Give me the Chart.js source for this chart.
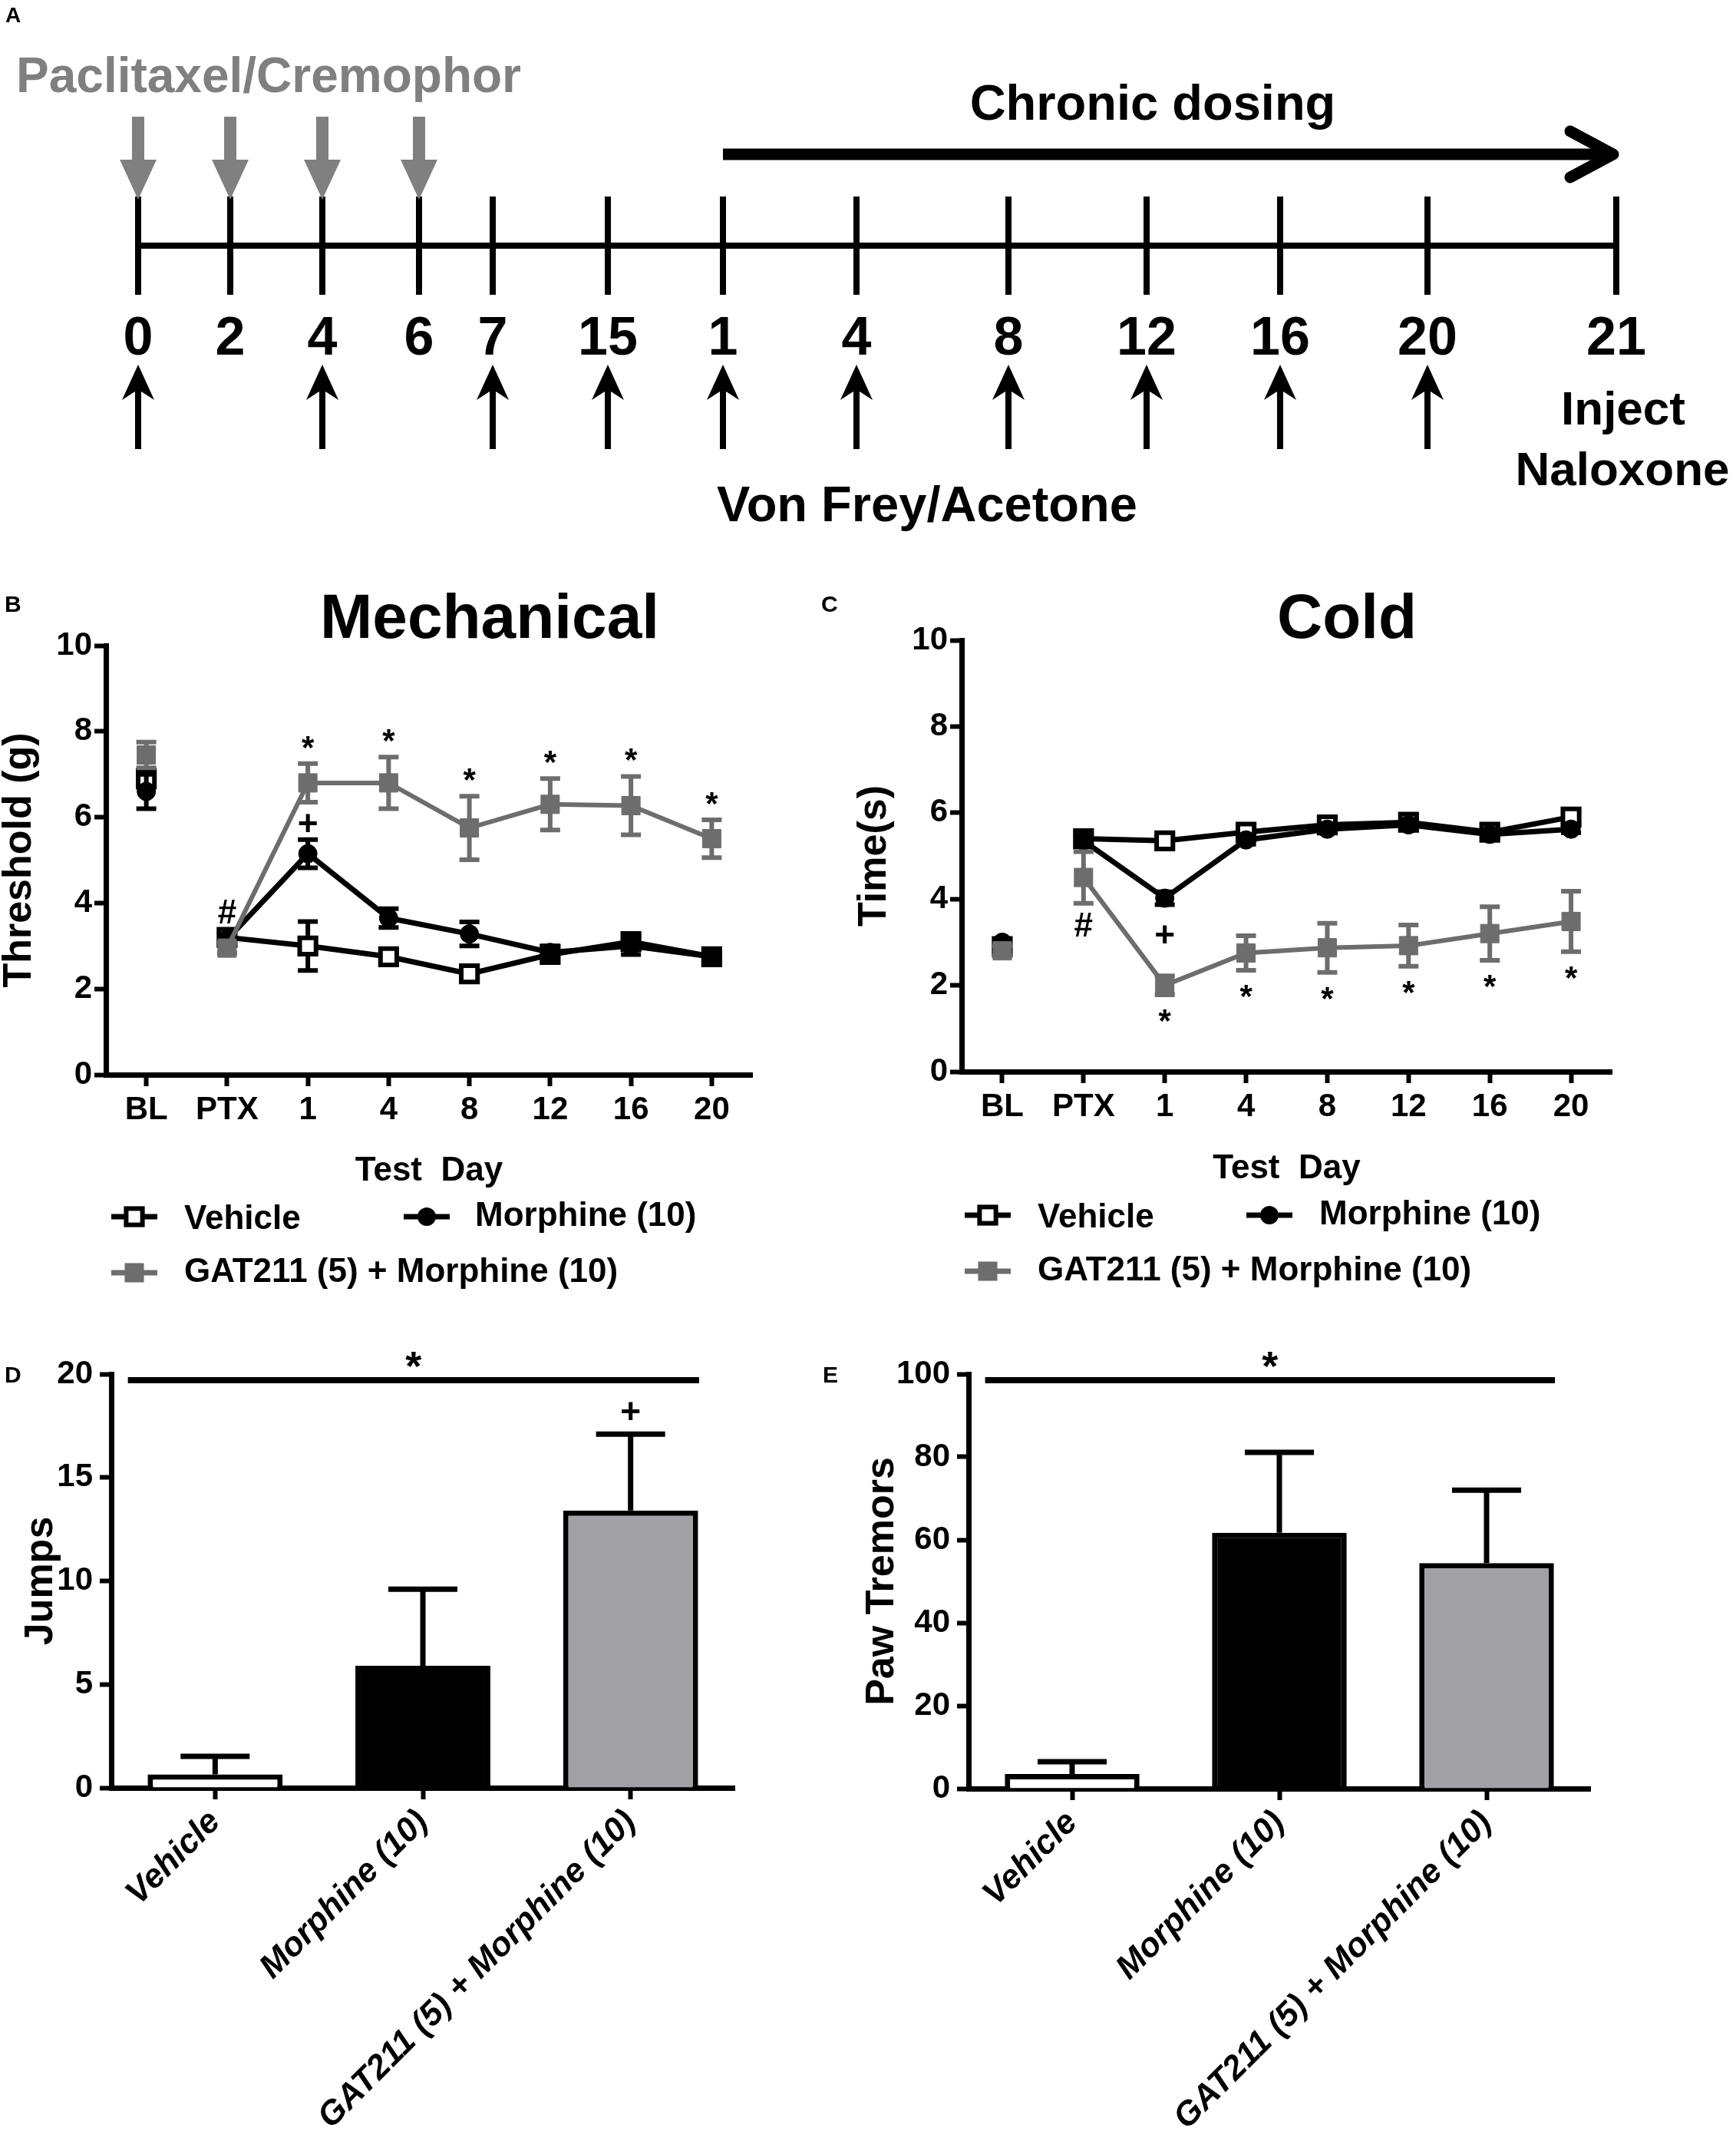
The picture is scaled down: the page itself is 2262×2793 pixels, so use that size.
<!DOCTYPE html>
<html>
<head>
<meta charset="utf-8">
<script src="https://cdn.jsdelivr.net/npm/chart.js@4.4.1/dist/chart.umd.min.js"></script>
<style>
  body { margin: 0; background: #fff; width: 2262px; height: 2793px; position: relative; overflow: hidden; }
  canvas { position: absolute; }
</style>
</head>
<body>
<canvas id="chartA" width="2262" height="700" style="left:0px;top:0px"></canvas>
<canvas id="chartB" width="1060" height="1000" style="left:0px;top:700px"></canvas>
<canvas id="chartC" width="1202" height="1000" style="left:1060px;top:700px"></canvas>
<canvas id="chartD" width="1060" height="1093" style="left:0px;top:1700px"></canvas>
<canvas id="chartE" width="1202" height="1093" style="left:1060px;top:1700px"></canvas>
<script>
'use strict'

// ---------- data ----------
// A: timeline (positions are schematic units along the line)
var timelineDays = ['0', '2', '4', '6', '7', '15', '1', '4', '8', '12', '16', '20', '21'];
var timelinePos = [0, 2, 4, 6.1, 7.7, 10.2, 12.7, 15.6, 18.9, 21.9, 24.8, 28, 32.1];
var paclitaxelDose = [1, 1, 1, 1, 0, 0, 0, 0, 0, 0, 0, 0, 0];
var vonFreyTest = [1, 0, 1, 0, 1, 1, 1, 1, 1, 1, 1, 1, 0];
var chronicFrom = 6, chronicTo = 12;

// B / C: test days
var testDays = ['BL', 'PTX', '1', '4', '8', '12', '16', '20'];

var mechVehicle = [6.9, 3.2, 3.0, 2.75, 2.35, 2.8, 3.1, 2.75];
var mechVehicleErr = [0.2, 0.1, 0.57, 0.12, 0.12, 0.15, 0.15, 0.1];
var mechMorphine = [6.6, 3.15, 5.15, 3.65, 3.28, 2.85, 3.0, 2.75];
var mechMorphineErr = [0.4, 0.1, 0.33, 0.22, 0.28, 0.15, 0.2, 0.1];
var mechGat = [7.45, 2.95, 6.8, 6.8, 5.75, 6.3, 6.27, 5.5];
var mechGatErr = [0.3, 0.12, 0.45, 0.6, 0.74, 0.6, 0.68, 0.44];
var mechStars = ['', '', '*', '*', '*', '*', '*', '*'];
var mechPlus = ['', '', '+', '', '', '', '', ''];
var mechHash = ['', '#', '', '', '', '', '', ''];

var coldVehicle = [2.9, 5.4, 5.35, 5.55, 5.72, 5.78, 5.55, 5.9];
var coldVehicleErr = [0.1, 0.12, 0.1, 0.1, 0.08, 0.1, 0.08, 0.12];
var coldMorphine = [3.0, 5.35, 4.02, 5.37, 5.62, 5.72, 5.5, 5.62];
var coldMorphineErr = [0.08, 0.1, 0.15, 0.1, 0.08, 0.12, 0.1, 0.08];
var coldGat = [2.8, 4.5, 2.0, 2.75, 2.87, 2.92, 3.2, 3.48];
var coldGatErr = [0.12, 0.6, 0.22, 0.4, 0.57, 0.48, 0.62, 0.7];
var coldStars = ['', '', '*', '*', '*', '*', '*', '*'];
var coldPlus = ['', '', '+', '', '', '', '', ''];
var coldHash = ['', '#', '', '', '', '', '', ''];

// D / E: withdrawal
var groups = ['Vehicle', 'Morphine (10)', 'GAT211 (5) + Morphine (10)'];
var jumps = [0.65, 5.9, 13.4];
var jumpsErr = [0.87, 3.7, 3.7];
var jumpsMarks = ['', '', '+'];
var tremors = [3.5, 61.7, 54.4];
var tremorsErr = [3.0, 19.4, 17.6];

var FONT = '"Liberation Sans", Arial, Helvetica, sans-serif';
var GRAY = '#6d6d6d';

Chart.defaults.font.family = FONT;
Chart.defaults.font.weight = 'bold';
Chart.defaults.color = '#000';

// ---------- plugins ----------
var errorBars = {
  id: 'errorBars',
  beforeDatasetDraw: function(chart, args) {
    var ds = chart.data.datasets[args.index];
    if (ds.errors && !ds.errorUp) drawErrors(chart, ds, args.meta);
  },
  afterDatasetDraw: function(chart, args) {
    var ds = chart.data.datasets[args.index];
    if (ds.errors && ds.errorUp) drawErrors(chart, ds, args.meta);
  }
};

function drawErrors(chart, ds, meta) {
  var ctx = chart.ctx, y = chart.scales.y;
  var hw = ds.capHalf || 13;
  ctx.save();
  ctx.strokeStyle = ds.errorColor || ds.borderColor;
  ctx.lineWidth = ds.errorWidth || 6;
  meta.data.forEach(function(el, i) {
    var v = ds.data[i], e = ds.errors[i];
    if (v == null || !e) return;
    var top = y.getPixelForValue(v + e);
    var bot = ds.errorUp ? y.getPixelForValue(v) : y.getPixelForValue(v - e);
    ctx.beginPath();
    ctx.moveTo(el.x, top); ctx.lineTo(el.x, bot);
    ctx.moveTo(el.x - hw, top); ctx.lineTo(el.x + hw, top);
    if (!ds.errorUp) { ctx.moveTo(el.x - hw, bot); ctx.lineTo(el.x + hw, bot); }
    ctx.stroke();
  });
  ctx.restore();
}

function centeredText(ctx, txt, x, yc) {
  var m = ctx.measureText(txt);
  ctx.fillText(txt, x, yc + (m.actualBoundingBoxAscent - m.actualBoundingBoxDescent) / 2);
}

function drawSymbol(ctx, ds, cx, cy) {
  ctx.strokeStyle = ds.borderColor;
  ctx.lineWidth = 7;
  ctx.beginPath(); ctx.moveTo(cx - 30, cy); ctx.lineTo(cx + 30, cy); ctx.stroke();
  ctx.fillStyle = ds.pointBackgroundColor;
  if (ds.pointStyle === 'circle') {
    ctx.beginPath(); ctx.arc(cx, cy, ds.pointRadius, 0, 2 * Math.PI); ctx.fill();
  } else {
    var s = ds.pointRadius * Math.SQRT2;
    ctx.fillRect(cx - s / 2, cy - s / 2, s, s);
    ctx.lineWidth = ds.pointBorderWidth;
    ctx.strokeStyle = ds.pointBorderColor;
    ctx.strokeRect(cx - s / 2, cy - s / 2, s, s);
  }
}

var extras = {};

var panelExtras = {
  id: 'panelExtras',
  afterDraw: function(chart) {
    var ex = extras[chart.canvas.id];
    if (!ex) return;
    var ctx = chart.ctx, area = chart.chartArea, ys = chart.scales.y, xs = chart.scales.x;
    ctx.save();
    ctx.fillStyle = '#000';
    ctx.textAlign = 'left';
    ctx.textBaseline = 'alphabetic';
    ctx.font = 'bold 30px ' + FONT;
    ctx.fillText(ex.letter[0], ex.letter[1], ex.letter[2]);

    if (ex.title) {
      ctx.font = 'bold 82px ' + FONT;
      ctx.textAlign = 'center';
      ctx.fillText(ex.title[0], ex.title[1], ex.title[2]);
    }

    // significance bar over all groups
    if (ex.sig) {
      var cell = xs.getPixelForValue(1) - xs.getPixelForValue(0);
      var x0 = xs.getPixelForValue(0) - 0.42 * cell;
      var x1 = xs.getPixelForValue(2) + 0.33 * cell;
      ctx.strokeStyle = '#000';
      ctx.lineWidth = 8;
      ctx.beginPath(); ctx.moveTo(x0, area.top + 8); ctx.lineTo(x1, area.top + 8); ctx.stroke();
      ctx.font = 'bold 54px ' + FONT;
      ctx.textAlign = 'center';
      centeredText(ctx, ex.sig, (x0 + x1) / 2, area.top - 19);
    }

    // marks (* + #) next to error bars
    (ex.marks || []).forEach(function(item) {
      var ds = chart.data.datasets[item.ds];
      var meta = chart.getDatasetMeta(item.ds);
      ctx.font = 'bold ' + item.size + 'px ' + FONT;
      ctx.textAlign = 'center';
      ctx.fillStyle = '#000';
      item.marks.forEach(function(m, i) {
        if (!m) return;
        var v = ds.data[i], e = ds.errors ? ds.errors[i] : 0;
        var yc = item.side === 'above'
          ? ys.getPixelForValue(v + e) - item.gap
          : ys.getPixelForValue(v - e) + item.gap;
        centeredText(ctx, m, meta.data[i].x, yc);
      });
    });

    // legend
    if (ex.legend) {
      ex.legend.items.forEach(function(it) {
        var ds = chart.data.datasets[it.ds];
        var cy = area.bottom + ex.legend.rows[it.row];
        drawSymbol(ctx, ds, area.left + it.sx, cy);
        ctx.fillStyle = '#000';
        ctx.font = 'bold 44px ' + FONT;
        ctx.textAlign = 'left';
        centeredText(ctx, ds.label, area.left + it.tx, cy);
      });
    }
    ctx.restore();
  }
};

var timelinePlugin = {
  id: 'timeline',
  afterDraw: function(chart) {
    var ctx = chart.ctx, xs = chart.scales.x, ys = chart.scales.y;
    var y0 = ys.getPixelForValue(0);
    var px = timelinePos.map(function(v) { return xs.getPixelForValue(v); });
    ctx.save();
    ctx.textBaseline = 'alphabetic';

    ctx.fillStyle = '#000';
    ctx.font = 'bold 28px ' + FONT;
    ctx.fillText('A', 7, 29);

    // day labels
    ctx.font = 'bold 70px ' + FONT;
    ctx.textAlign = 'center';
    timelineDays.forEach(function(d, i) { ctx.fillText(d, px[i], y0 + 142); });

    // paclitaxel injections
    ctx.fillStyle = '#808080';
    paclitaxelDose.forEach(function(on, i) {
      if (!on) return;
      var x = px[i];
      ctx.fillRect(x - 8, y0 - 168, 16, 60);
      ctx.beginPath();
      ctx.moveTo(x - 24, y0 - 112); ctx.lineTo(x + 24, y0 - 112); ctx.lineTo(x, y0 - 60);
      ctx.closePath(); ctx.fill();
    });
    ctx.font = 'bold 64px ' + FONT;
    ctx.fillText('Paclitaxel/Cremophor', (px[0] + px[3]) / 2 - 13, y0 - 200);

    // behavioural testing arrows
    ctx.fillStyle = '#000';
    vonFreyTest.forEach(function(on, i) {
      if (!on) return;
      var x = px[i], t = y0 + 155;
      ctx.beginPath();
      ctx.moveTo(x, t); ctx.lineTo(x + 21, t + 46); ctx.lineTo(x + 4, t + 35);
      ctx.lineTo(x + 4, y0 + 265); ctx.lineTo(x - 4, y0 + 265); ctx.lineTo(x - 4, t + 35);
      ctx.lineTo(x - 21, t + 46); ctx.closePath(); ctx.fill();
    });
    ctx.font = 'bold 65px ' + FONT;
    ctx.fillText('Von Frey/Acetone', px[chronicFrom] + 266, y0 + 359);

    // chronic dosing arrow
    var xa = px[chronicFrom], xb = px[chronicTo] - 4, ya = y0 - 119;
    ctx.strokeStyle = '#000';
    ctx.lineWidth = 15;
    ctx.beginPath(); ctx.moveTo(xa, ya); ctx.lineTo(xb - 6, ya); ctx.stroke();
    ctx.lineCap = 'round';
    ctx.lineJoin = 'round';
    ctx.beginPath();
    ctx.moveTo(xb - 56, ya - 30); ctx.lineTo(xb, ya); ctx.lineTo(xb - 56, ya + 30);
    ctx.stroke();
    ctx.fillText('Chronic dosing', (xa + xb) / 2 - 20, y0 - 164);

    ctx.font = 'bold 62px ' + FONT;
    ctx.fillText('Inject', px[chronicTo] + 9, y0 + 233);
    ctx.fillText('Naloxone', px[chronicTo] + 8, y0 + 312);
    ctx.restore();
  }
};

// ---------- chart A ----------
new Chart(document.getElementById('chartA'), {
  type: 'scatter',
  data: {
    datasets: [{
      data: timelinePos.map(function(v) { return {x: v, y: 0}; }),
      showLine: true,
      borderColor: '#000',
      borderWidth: 8,
      pointStyle: 'line',
      pointRotation: 90,
      pointRadius: 64,
      pointBorderWidth: 8,
      pointBorderColor: '#000',
      clip: false
    }]
  },
  options: {
    responsive: false, animation: false, events: [],
    layout: {autoPadding: false, padding: {left: 0, right: 0, top: 0, bottom: 60}},
    plugins: {legend: {display: false}, tooltip: {enabled: false}},
    scales: {
      x: {type: 'linear', display: false, min: -3, max: 34.7},
      y: {type: 'linear', display: false, min: -1, max: 1}
    }
  },
  plugins: [timelinePlugin]
});

// ---------- line charts B, C ----------
// order: lower draws on top (GAT211 over morphine over vehicle)
var STYLE = {
  vehicle: {color: '#000', point: 'rect', r: 15, fill: '#fff', pbw: 6, lw: 7, order: 2},
  morphine: {color: '#000', point: 'circle', r: 12, fill: '#000', pbw: 1, lw: 7, order: 1},
  gat: {color: GRAY, point: 'rect', r: 17, fill: GRAY, pbw: 1, lw: 6, order: 0}
};

function lineSet(label, values, errs, st) {
  return {
    label: label,
    data: values,
    errors: errs,
    borderColor: st.color,
    borderWidth: st.lw,
    pointStyle: st.point,
    pointRadius: st.r,
    pointBackgroundColor: st.fill,
    pointBorderColor: st.color,
    pointBorderWidth: st.pbw,
    tension: 0,
    order: st.order,
    segment: {
      // baseline is not joined to the PTX point
      borderColor: function(c) { return c.p0DataIndex === 0 ? 'rgba(0,0,0,0)' : st.color; }
    }
  };
}

function axisOpts(o) {
  return {
    x: {
      type: 'category',
      offset: true,
      grid: {display: true, drawOnChartArea: false, drawTicks: true, tickLength: 15, tickWidth: 6, tickColor: '#000', offset: false},
      border: {display: true, color: '#000', width: 7},
      ticks: o.xTicks,
      title: o.xTitle ? {display: true, text: o.xTitle, color: '#000', font: {size: 44, weight: 'bold', lineHeight: 1}, padding: 0} : {display: false},
      afterFit: function(s) { s.height = o.xHeight; }
    },
    y: {
      min: 0, max: o.yMax,
      grid: {display: true, drawOnChartArea: false, drawTicks: true, tickLength: 15, tickWidth: 6, tickColor: '#000'},
      border: {display: true, color: '#000', width: 7},
      ticks: {stepSize: o.yStep, color: '#000', font: {size: 42, weight: 'bold'}, padding: o.yPad},
      title: {display: true, text: o.yTitle, color: '#000', font: {size: 52, weight: 'bold', lineHeight: 1}, padding: {top: o.yTitlePad, bottom: 0}},
      afterFit: function(s) { s.width = o.yWidth; }
    }
  };
}

function lineChart(id, sets, o) {
  return new Chart(document.getElementById(id), {
    type: 'line',
    data: {labels: testDays, datasets: sets},
    options: {
      responsive: false, animation: false, events: [],
      layout: {autoPadding: false, padding: {left: 0, top: o.top, right: o.right, bottom: o.bottom}},
      plugins: {legend: {display: false}, tooltip: {enabled: false}},
      scales: axisOpts({
        xTicks: {color: '#000', font: {size: 42, weight: 'bold'}, padding: 6, maxRotation: 0, autoSkip: false},
        xTitle: 'Test  Day', xHeight: o.xHeight,
        yMax: 10, yStep: 2, yPad: 3, yTitle: o.yTitle, yTitlePad: o.yTitlePad, yWidth: o.yWidth
      })
    },
    plugins: [errorBars, panelExtras]
  });
}

extras.chartB = {
  letter: ['B', 6, 97],
  title: ['Mechanical', 638, 131],
  marks: [
    {ds: 2, marks: mechStars, side: 'above', gap: 28, size: 42},
    {ds: 1, marks: mechPlus, side: 'above', gap: 22, size: 46},
    {ds: 0, marks: mechHash, side: 'above', gap: 28, size: 44}
  ],
  legend: {rows: [185, 258], items: [{ds: 0, row: 0, sx: 37, tx: 102}, {ds: 1, row: 0, sx: 418, tx: 481}, {ds: 2, row: 1, sx: 37, tx: 102}]}
};

lineChart('chartB', [
  lineSet('Vehicle', mechVehicle, mechVehicleErr, STYLE.vehicle),
  lineSet('Morphine (10)', mechMorphine, mechMorphineErr, STYLE.morphine),
  lineSet('GAT211 (5) + Morphine (10)', mechGat, mechGatErr, STYLE.gat)
], {top: 141, right: 80, bottom: 152, xHeight: 148, yWidth: 138, yTitle: 'Threshold (g)', yTitlePad: 0});

extras.chartC = {
  letter: ['C', 10, 97],
  title: ['Cold', 695, 131],
  marks: [
    {ds: 2, marks: coldStars, side: 'below', gap: 27, size: 42},
    {ds: 1, marks: coldPlus, side: 'below', gap: 38, size: 46},
    {ds: 2, marks: coldHash, side: 'below', gap: 28, size: 44}
  ],
  legend: {rows: [187, 260], items: [{ds: 0, row: 0, sx: 34, tx: 99}, {ds: 1, row: 0, sx: 401, tx: 466}, {ds: 2, row: 1, sx: 34, tx: 99}]}
};

lineChart('chartC', [
  lineSet('Vehicle', coldVehicle, coldVehicleErr, STYLE.vehicle),
  lineSet('Morphine (10)', coldMorphine, coldMorphineErr, STYLE.morphine),
  lineSet('GAT211 (5) + Morphine (10)', coldGat, coldGatErr, STYLE.gat)
], {top: 134, right: 162, bottom: 155, xHeight: 149, yWidth: 193, yTitle: 'Time(s)', yTitlePad: 54});

// ---------- bar charts D, E ----------
function barChart(id, values, errs, o) {
  return new Chart(document.getElementById(id), {
    type: 'bar',
    data: {
      labels: groups,
      datasets: [{
        data: values,
        errors: errs,
        errorUp: true,
        capHalf: 45,
        errorWidth: 7,
        errorColor: '#000',
        backgroundColor: ['#ffffff', '#000000', '#a1a1a5'],
        borderColor: '#000',
        borderWidth: 7,
        categoryPercentage: 1,
        barPercentage: 0.65
      }]
    },
    options: {
      responsive: false, animation: false, events: [],
      layout: {autoPadding: false, padding: {left: 0, top: o.top, right: o.right, bottom: 0}},
      plugins: {legend: {display: false}, tooltip: {enabled: false}},
      scales: axisOpts({
        xTicks: {color: '#000', font: {size: 44, weight: 'bold', style: 'italic'}, padding: 4, minRotation: 45, maxRotation: 45, autoSkip: false},
        xTitle: null, xHeight: o.xHeight,
        yMax: o.yMax, yStep: o.yStep, yPad: 9, yTitle: o.yTitle, yTitlePad: o.yTitlePad, yWidth: o.yWidth
      })
    },
    plugins: [errorBars, panelExtras]
  });
}

extras.chartD = {
  letter: ['D', 6, 101],
  sig: '*',
  marks: [{ds: 0, marks: jumpsMarks, side: 'above', gap: 30, size: 46}]
};
barChart('chartD', jumps, jumpsErr, {top: 90, right: 103, xHeight: 464, yWidth: 145, yMax: 20, yStep: 5, yTitle: 'Jumps', yTitlePad: 28});

extras.chartE = {
  letter: ['E', 12, 101],
  sig: '*'
};
barChart('chartE', tremors, tremorsErr, {top: 90, right: 190, xHeight: 463, yWidth: 202, yMax: 100, yStep: 20, yTitle: 'Paw Tremors', yTitlePad: 64});
</script>
</body>
</html>
